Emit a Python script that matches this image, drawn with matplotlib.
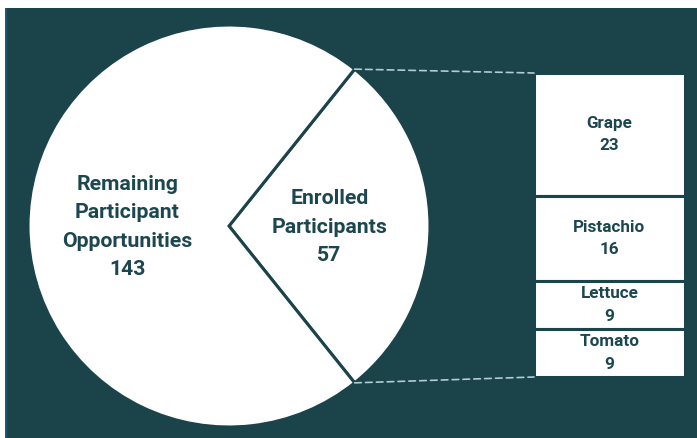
import numpy as np
import matplotlib.pyplot as plt
from matplotlib.patches import ConnectionPatch, Rectangle

TEAL = "#1b434a"
TEXT = "#1d4750"
DASH = "#b4cbd2"

# ===== data =====
pie_labels = ["Enrolled\nParticipants", "Remaining\nParticipant\nOpportunities"]
pie_values = [57, 143]
bar_labels = ["Grape", "Pistachio", "Lettuce", "Tomato"]
bar_values = [23, 16, 9, 9]

W, H = 697, 438
fig = plt.figure(figsize=(W / 100, H / 100), dpi=100)
fig.patch.set_facecolor("white")
# teal panel (white strip on top/left like the original)
fig.patches.append(Rectangle((5 / W, 0), 1, (H - 8) / H, transform=fig.transFigure,
                             facecolor=TEAL, edgecolor="none", zorder=-10))
fig.patches.append(Rectangle((5 / W, 0), 1.5 / W, (H - 8) / H, transform=fig.transFigure,
                             facecolor="#1f5670", edgecolor="none", zorder=-9))

# ===== pie =====
cx, cy, r = 229, 226, 201
ax_pie = fig.add_axes([(cx - r) / W, (H - cy - r) / H, 2 * r / W, 2 * r / H])
ax_pie.set_facecolor("none")
start = -pie_values[0] / sum(pie_values) * 180
wedges, _ = ax_pie.pie(pie_values, startangle=start, counterclock=True,
                       colors=["white", "white"],
                       wedgeprops=dict(edgecolor=TEAL, linewidth=2.2))
ax_pie.set_xlim(-1, 1)
ax_pie.set_ylim(-1, 1)
ax_pie.set_aspect("equal")
ax_pie.axis("off")

fnt = dict(family="Roboto", weight="bold", color=TEXT, ha="center", va="center",
           linespacing=1.62)
ax_pie.text(0.5, -0.005, f"{pie_labels[0]}\n{pie_values[0]}", fontsize=15.3, **fnt)
ax_pie.text(-0.505, -0.005, f"{pie_labels[1]}\n{pie_values[1]}", fontsize=15.3, **fnt)

# ===== bar of pie =====
bx0, bx1, by0, by1 = 534, 685, 73, 377
ax_bar = fig.add_axes([bx0 / W, (H - by1) / H, (bx1 - bx0) / W, (by1 - by0) / H])
ax_bar.set_facecolor("none")
bottom = sum(bar_values)
for lab, v in zip(bar_labels, bar_values):
    bottom -= v
    ax_bar.bar(0, v, bottom=bottom, width=1, color="white", edgecolor=TEAL, linewidth=2.2)
    ax_bar.text(0, bottom + v / 2, f"{lab}\n{v}", fontsize=12.3, **fnt)
ax_bar.set_xlim(-0.5, 0.5)
ax_bar.set_ylim(0, sum(bar_values))
ax_bar.axis("off")

# ===== connector lines =====
theta = np.deg2rad(pie_values[0] / sum(pie_values) * 180)
for sgn, yb in [(1, sum(bar_values)), (-1, 0)]:
    con = ConnectionPatch(xyA=(np.cos(theta), sgn * np.sin(theta)), coordsA=ax_pie.transData,
                          xyB=(-0.5, yb), coordsB=ax_bar.transData,
                          color=DASH, linewidth=1.2, linestyle=(0, (4, 2.5)))
    fig.add_artist(con)

fig.savefig("out.png", dpi=100, facecolor=fig.get_facecolor())
